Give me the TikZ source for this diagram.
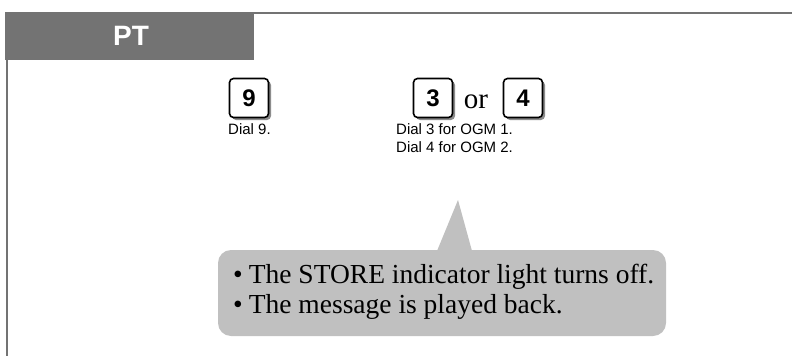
\documentclass[tikz,border=0pt]{standalone}
\usepackage{fontspec}
\setmainfont{Liberation Serif}
\setsansfont{Liberation Sans}
\begin{document}
\begin{tikzpicture}[x=1pt,y=-1pt,
  keybox/.style={draw=black,line width=1.6pt,rounded corners=4pt,fill=white,minimum width=39pt,minimum height=39pt,inner sep=0pt,font=\sffamily\bfseries\fontsize{24}{24}\selectfont},
  keyshadow/.style={fill=shadowgray,rounded corners=4pt},
  dialtext/.style={font=\sffamily\fontsize{15}{18}\selectfont,align=left,inner sep=0pt,anchor=north west},
  bullettext/.style={font=\rmfamily\fontsize{27.5}{30}\selectfont,align=left,inner sep=0pt,anchor=north west}
]
\definecolor{hdrgray}{HTML}{737373}
\definecolor{shadowgray}{HTML}{8C8C8C}
\definecolor{calloutgray}{HTML}{C0C0C0}
\useasboundingbox (0,0) rectangle (792,356);
\fill[white] (0,0) rectangle (792,356);
% header
\fill[hdrgray] (5,12) rectangle (254,60);
\node[text=white,font=\sffamily\bfseries\fontsize{28}{28}\selectfont,anchor=base] (pt) at (131,45) {PT};
\draw[hdrgray,line width=2pt] (254,13) -- (792,13);
\draw[hdrgray,line width=2pt] (7,60) -- (7,356);
% keys
\fill[keyshadow] (232,81) rectangle (271,120);
\node[keybox] (k9) at (249,98) {9};
\fill[keyshadow] (416,81) rectangle (455,120);
\node[keybox] (k3) at (433,98) {3};
\node[font=\rmfamily\fontsize{29}{29}\selectfont,inner sep=0pt,anchor=base] (or) at (476,108) {or};
\fill[keyshadow] (506,81) rectangle (545,120);
\node[keybox] (k4) at (523,98) {4};
% dial texts
\node[dialtext] (d9) at (228,123) {Dial 9.};
\node[dialtext] (d34) at (396,123) {Dial 3 for OGM 1.\\Dial 4 for OGM 2.};
% callout
\fill[calloutgray,rounded corners=13pt] (218,250) rectangle (666,336);
\fill[calloutgray] (437,251) -- (458,200) -- (472,251) -- cycle;
\node[bullettext] (b) at (233,264) {\textbullet\hspace{6pt}The STORE indicator light turns off.\\\textbullet\hspace{6pt}The message is played back.};
\end{tikzpicture}
\end{document}
